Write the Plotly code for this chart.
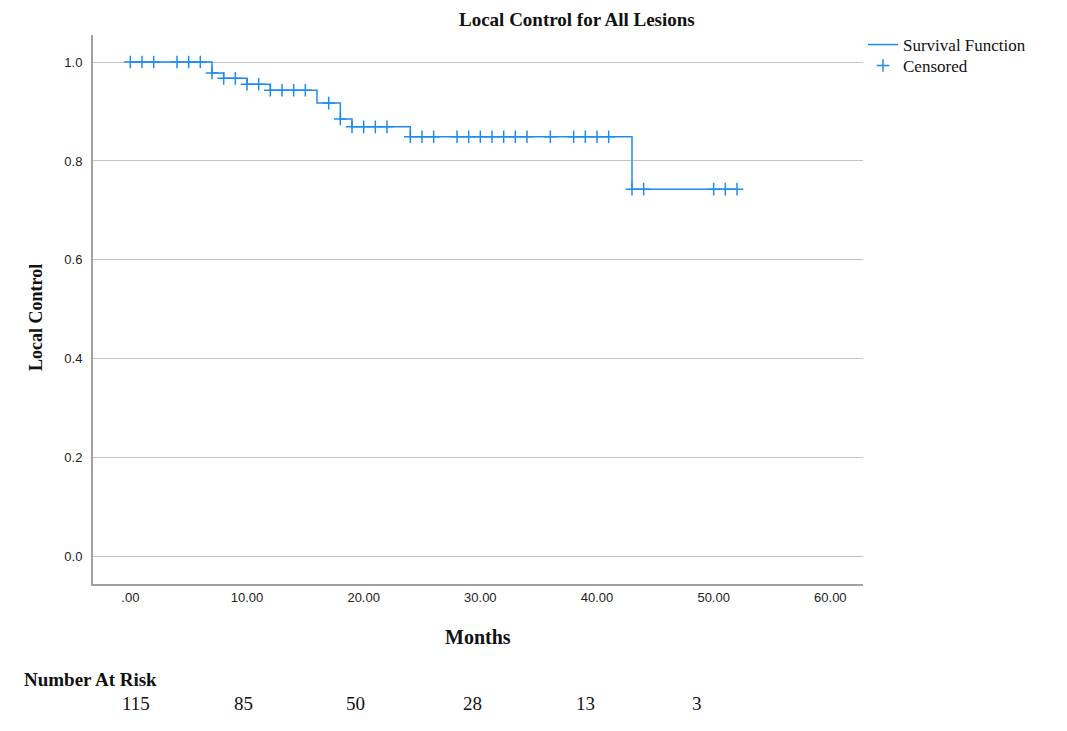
import plotly.graph_objects as go

# Step curve: event times and survival after each step
step_times = [0, 7, 8, 10, 12, 16, 18, 19, 24, 43]
step_surv = [1.0, 0.978, 0.967, 0.955, 0.943, 0.917, 0.885, 0.869, 0.849, 0.743]
end_time = 52

# Censored observations
cens_times = [0, 1, 2, 4, 5, 6, 7, 8, 9, 10, 11, 12, 13, 14, 15, 17, 18,
              19, 20, 21, 22, 24, 25, 26, 28, 29, 30, 31, 32, 33, 34, 36,
              38, 39, 40, 41, 43, 44, 50, 51, 52]

# Number at risk
risk_counts = [115, 85, 50, 28, 13, 3]

x_tick_vals = [0, 10, 20, 30, 40, 50, 60]
x_tick_text = [".00", "10.00", "20.00", "30.00", "40.00", "50.00", "60.00"]

# layout: screen positions (px) of the at-risk labels
risk_label_px = [136, 243, 355, 472, 585, 697]


def surv_at(t):
    s = step_surv[0]
    for tt, ss in zip(step_times, step_surv):
        if tt <= t:
            s = ss
    return s


line_x = step_times + [end_time]
line_y = step_surv + [step_surv[-1]]
cens_y = [surv_at(t) for t in cens_times]

blue = "#1f8ceb"
serif = "Liberation Serif, Times New Roman, serif"
tickfont = "Liberation Sans Narrow, Arial Narrow, Liberation Sans, sans-serif"

# plot area in screen px (page has 8px body offset)
PL, PR, PT, PB = 93, 863, 35, 584
PW, PH = PR - PL, PB - PT


def px_x(px):
    return (px - PL) / PW


def px_y(py):
    return (PB - py) / PH


fig = go.Figure()
fig.add_trace(go.Scatter(
    x=line_x, y=line_y, mode="lines", line=dict(color=blue, width=1.5, shape="hv"),
    name="Survival Function", legend="legend"))
fig.add_trace(go.Scatter(
    x=cens_times, y=cens_y, mode="markers",
    marker=dict(symbol="cross-thin", size=9, color=blue, line=dict(color=blue, width=1.5)),
    name="Censored", legend="legend2"))

leg_common = dict(xanchor="left", yanchor="middle",
                  font=dict(family=serif, size=17, color="#111"),
                  itemwidth=30, bgcolor="rgba(0,0,0,0)")

fig.update_layout(
    width=1067, height=731,
    margin=dict(l=PL - 8, r=1067 + 8 - PR, t=PT - 8, b=731 + 8 - PB),
    plot_bgcolor="white", paper_bgcolor="white",
    showlegend=True,
    legend=dict(x=1.0, y=px_y(45), **leg_common),
    legend2=dict(x=1.0, y=px_y(66), **leg_common),
    xaxis=dict(range=[-3.2, 62.8], tickvals=x_tick_vals, ticktext=x_tick_text,
               showgrid=False, zeroline=False, showline=True, linecolor="#a0a0a0",
               linewidth=2, ticks="", ticklen=0,
               tickfont=dict(family=tickfont, size=13, color="#222")),
    yaxis=dict(range=[-0.055, 1.0546], tickvals=[0, 0.2, 0.4, 0.6, 0.8, 1.0],
               tickformat=".1f", showgrid=True, gridcolor="#c4c4c4", gridwidth=1.2,
               zeroline=False, showline=True, linecolor="#a0a0a0", linewidth=2,
               ticks="outside", ticklen=6, tickcolor="white",
               tickfont=dict(family=tickfont, size=13, color="#222")),
)

annotations = [
    dict(text="<b>Local Control for All Lesions</b>", x=px_x(577), y=px_y(19),
         xref="paper", yref="paper", xanchor="center", yanchor="middle",
         showarrow=False, font=dict(family=serif, size=19, color="#111")),
    dict(text="<b>Months</b>", x=0.5, y=px_y(637), xref="paper", yref="paper",
         xanchor="center", yanchor="middle", showarrow=False,
         font=dict(family=serif, size=20, color="#111")),
    dict(text="<b>Local Control</b>", x=px_x(36), y=px_y(318),
         xref="paper", yref="paper", xanchor="center", yanchor="middle", textangle=-90,
         showarrow=False, font=dict(family=serif, size=18, color="#111")),
    dict(text="<b>Number At Risk</b>", x=px_x(22), y=px_y(679),
         xref="paper", yref="paper", xanchor="left", yanchor="middle",
         showarrow=False, font=dict(family=serif, size=19, color="#111")),
]
for px, c in zip(risk_label_px, risk_counts):
    annotations.append(dict(text=str(c), x=px_x(px), y=px_y(703), xref="paper", yref="paper",
                            xanchor="center", yanchor="middle", showarrow=False,
                            font=dict(family=serif, size=19, color="#111")))
fig.update_layout(annotations=annotations)

fig.write_html("out.html")
